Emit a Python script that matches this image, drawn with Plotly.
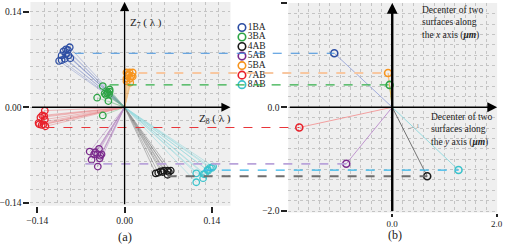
import plotly.graph_objects as go

# ---------------- data ----------------
groups = ["1BA", "3BA", "4AB", "5AB", "5BA", "7AB", "8AB"]

# panel (a): Z8 (x) and Z7 (y) coefficients, in waves
z8_1BA = [-0.088, -0.094, -0.098, -0.091, -0.101, -0.094, -0.087, -0.105, -0.101, -0.096, -0.090]
z7_1BA = [0.088, 0.085, 0.082, 0.084, 0.076, 0.078, 0.072, 0.068, 0.069, 0.071, 0.076]
z8_3BA = [-0.035, -0.024, -0.028, -0.030, -0.044, -0.026, -0.035, -0.027, -0.025, -0.032, -0.024]
z7_3BA = [0.031, 0.026, 0.020, 0.018, 0.014, 0.009, -0.012, 0.022, 0.019, 0.020, 0.023]
z8_4AB = [0.050, 0.058, 0.063, 0.069, 0.074, 0.061, 0.069, 0.054, 0.071]
z7_4AB = [-0.097, -0.094, -0.093, -0.093, -0.093, -0.095, -0.099, -0.096, -0.095]
z8_5AB = [-0.056, -0.041, -0.049, -0.037, -0.053, -0.040, -0.043, -0.047, -0.039, -0.044]
z7_5AB = [-0.065, -0.061, -0.069, -0.069, -0.077, -0.075, -0.087, -0.066, -0.071, -0.069]
z8_5BA = [0.003, 0.008, 0.013, 0.005, 0.011, 0.003, 0.009, 0.003, 0.009, 0.013, 0.006]
z7_5BA = [0.051, 0.051, 0.051, 0.046, 0.046, 0.042, 0.042, 0.038, 0.036, 0.045, 0.048]
z8_7AB = [-0.128, -0.132, -0.135, -0.128, -0.137, -0.130, -0.127, -0.133, -0.138, -0.129]
z7_7AB = [-0.005, -0.012, -0.015, -0.018, -0.025, -0.025, -0.028, -0.026, -0.023, -0.013]
z8_8AB = [0.115, 0.115, 0.126, 0.133, 0.142, 0.137, 0.127, 0.129, 0.134, 0.140]
z7_8AB = [-0.097, -0.110, -0.104, -0.092, -0.087, -0.089, -0.098, -0.098, -0.093, -0.089]

# panel (b): decenter of the two surfaces (um), same group order
decenter_x_um = [-1.11, -0.05, 0.67, -0.88, -0.08, -1.78, 1.27]
decenter_y_um = [1.04, 0.43, -1.33, -1.09, 0.66, -0.39, -1.21]
# where each dashed link leaves panel (a) (Z8 value)
link_start_z8 = [-0.080, -0.024, 0.069, -0.063, 0.022, -0.127, 0.127]

ticks_a = [-0.14, 0.0, 0.14]
ticks_b = [-2.0, 0.0, 2.0]

# ---------------- styles ----------------
marker_colors = ["#2d4ea3", "#2ca444", "#1a1a1a", "#7a2a8c", "#f7941d", "#e8202a", "#3cc3cc"]
ray_colors = ["#4a62b8", "#3aa850", "#333333", "#8a3aa0", "#f7941d", "#e83a40", "#45c6cf"]
link_colors = ["#3f8fdc", "#33b04a", "#6e6e6e", "#b9a3da", "#f8c7a0", "#e8353a", "#30b6ec"]
link_widths = [1.2, 1.2, 1.8, 1.8, 2.0, 1.2, 1.2]
b_ray_colors = ["#8d9bd6", "#5cbf5c", "#555555", "#b47fc6", "#f7a54a", "#f28b8b", "#7fd6dc"]

FONT = "Liberation Serif"
W, H = 510, 248


def px_x(p):
    return p / W


def px_y(p):
    return 1 - p / H


# panel (a) geometry (pixels)
A_L, A_R, A_T, A_B = 27, 231, 2, 209
A_X0, A_Y0 = 123, 109
kxa, kya = 0.14 / 89, 0.14 / 97
xr_a = [(A_L - A_X0) * kxa, (A_R - A_X0) * kxa]
yr_a = [(A_Y0 - A_B) * kya, (A_Y0 - A_T) * kya]

# panel (b) geometry (pixels)
B_L, B_R, B_T, B_B = 290, 503, 3, 216
B_X0, B_Y0 = 396, 109
kxb, kyb = 2 / 106.5, 2 / 105.5
xr_b = [(B_L - B_X0) * kxb, (B_R - B_X0) * kxb]
yr_b = [(B_Y0 - B_B) * kyb, (B_Y0 - B_T) * kyb]


def paper_a(xv):
    return px_x(A_L) + (xv - xr_a[0]) / (xr_a[1] - xr_a[0]) * (px_x(A_R) - px_x(A_L))


def paper_b(xv):
    return px_x(B_L) + (xv - xr_b[0]) / (xr_b[1] - xr_b[0]) * (px_x(B_R) - px_x(B_L))


z8_all = [z8_1BA, z8_3BA, z8_4AB, z8_5AB, z8_5BA, z8_7AB, z8_8AB]
z7_all = [z7_1BA, z7_3BA, z7_4AB, z7_5AB, z7_5BA, z7_7AB, z7_8AB]

fig = go.Figure()

# panel (a) rays and points
for i, g in enumerate(groups):
    xs, ys = [], []
    for xv, yv in zip(z8_all[i], z7_all[i]):
        xs += [0, xv, None]
        ys += [0, yv, None]
    fig.add_trace(go.Scatter(x=xs, y=ys, mode="lines", xaxis="x", yaxis="y",
                             line=dict(color=ray_colors[i], width=0.6), opacity=0.5,
                             hoverinfo="skip", showlegend=False))
for i, g in enumerate(groups):
    fig.add_trace(go.Scatter(x=z8_all[i], y=z7_all[i], mode="markers", xaxis="x", yaxis="y",
                             marker=dict(symbol="circle-open", size=6.5, color=marker_colors[i],
                                         line=dict(width=1.3)),
                             name=g, showlegend=False, cliponaxis=False))

# panel (b) rays and points
for i, g in enumerate(groups):
    fig.add_trace(go.Scatter(x=[0, decenter_x_um[i]], y=[0, decenter_y_um[i]], mode="lines",
                             xaxis="x2", yaxis="y2",
                             line=dict(color=b_ray_colors[i], width=0.8),
                             hoverinfo="skip", showlegend=False))
fig.add_trace(go.Scatter(x=decenter_x_um, y=decenter_y_um, mode="markers", xaxis="x2", yaxis="y2",
                         marker=dict(symbol="circle-open", size=7, color=marker_colors,
                                     line=dict(width=1.6)),
                         showlegend=False, cliponaxis=False))

# hand-made legend
fig.add_trace(go.Scatter(x=[0] * len(groups), y=list(range(len(groups))), mode="markers+text",
                         xaxis="x3", yaxis="y3", text=groups, textposition="middle right",
                         textfont=dict(family=FONT, size=9.5, color="#222222"),
                         marker=dict(symbol="circle-open", size=7.5, color=marker_colors,
                                     line=dict(width=1.6)),
                         showlegend=False, cliponaxis=False, hoverinfo="skip"))

grid = dict(showgrid=True, gridcolor="#c4c4c4", griddash="dot", gridwidth=1)
tickfont = dict(family=FONT, size=9.5, color="#222222")

fig.update_layout(
    width=W, height=H, autosize=False,
    margin=dict(l=0, r=0, t=0, b=0),
    paper_bgcolor="white", plot_bgcolor="rgba(0,0,0,0)",
    font=dict(family=FONT, size=10, color="#222222"),
    showlegend=False, hovermode=False,
    xaxis=dict(domain=[px_x(A_L), px_x(A_R)], range=xr_a, anchor="y",
               tickmode="array", tickvals=ticks_a, tickformat=".2f",
               ticks="outside", ticklen=6, tickwidth=1.5, tickcolor="#222",
               tickfont=tickfont, showgrid=False, zeroline=False, showline=False,
               minor=dict(tick0=0, dtick=13.7 * kxa, **grid)),
    yaxis=dict(domain=[px_y(A_B), px_y(A_T)], range=yr_a, anchor="x",
               tickmode="array", tickvals=ticks_a, tickformat=".2f",
               ticks="outside", ticklen=6, tickwidth=1.5, tickcolor="#222",
               tickfont=tickfont, showgrid=False, zeroline=False, showline=False,
               minor=dict(tick0=0, dtick=0.02, **grid)),
    xaxis2=dict(domain=[px_x(B_L), px_x(B_R)], range=xr_b, anchor="y2",
                tickmode="array", tickvals=ticks_b, tickformat=".1f",
                ticks="outside", ticklen=3, tickwidth=1.5, tickcolor="#222",
                tickfont=dict(family=FONT, size=9, color="#222222"),
                showgrid=False, zeroline=False, showline=False,
                minor=dict(tick0=0, dtick=0.2, **grid)),
    yaxis2=dict(domain=[px_y(B_B), px_y(B_T)], range=yr_b, anchor="x2",
                tickmode="array", tickvals=ticks_b, tickformat=".1f",
                ticks="outside", ticklen=6, tickwidth=1.5, tickcolor="#222",
                tickfont=tickfont, showgrid=False, zeroline=False, showline=False,
                minor=dict(tick0=0, dtick=0.2, **grid)),
    xaxis3=dict(domain=[px_x(238), px_x(290)], range=[-0.5, 5.0], anchor="y3", visible=False),
    yaxis3=dict(domain=[px_y(88), px_y(26)], range=[6.2, -0.2], anchor="x3", visible=False),
)

shapes = [
    dict(type="rect", xref="x domain", yref="y domain", x0=0, x1=1, y0=0, y1=1,
         fillcolor="#efefef", line=dict(width=0), layer="below"),
    dict(type="rect", xref="x2 domain", yref="y2 domain", x0=0, x1=1, y0=0, y1=1,
         fillcolor="#efefef", line=dict(width=0), layer="below"),
]
for i, g in enumerate(groups):
    shapes.append(dict(type="line", xref="paper", yref="y2",
                       x0=paper_a(link_start_z8[i]), x1=paper_b(decenter_x_um[i]),
                       y0=decenter_y_um[i], y1=decenter_y_um[i],
                       line=dict(color=link_colors[i], width=link_widths[i], dash="dash")))
fig.update_layout(shapes=shapes)

ann = []
# axis arrows
ann.append(dict(xref="x", yref="y", axref="x", ayref="y", x=xr_a[1], y=0, ax=xr_a[0], ay=0,
                text="", showarrow=True, arrowhead=2, arrowsize=1.4, arrowwidth=1.3, arrowcolor="black"))
ann.append(dict(xref="x", yref="y", axref="x", ayref="y", x=0, y=yr_a[1], ax=0, ay=yr_a[0],
                text="", showarrow=True, arrowhead=2, arrowsize=1.4, arrowwidth=1.3, arrowcolor="black"))
ann.append(dict(xref="x2", yref="y2", axref="x2", ayref="y2", x=xr_b[1], y=0, ax=xr_b[0], ay=0,
                text="", showarrow=True, arrowhead=2, arrowsize=1.4, arrowwidth=1.4, arrowcolor="black"))
ann.append(dict(xref="x2", yref="y2", axref="x2", ayref="y2", x=0, y=yr_b[1], ax=0, ay=yr_b[0],
                text="", showarrow=True, arrowhead=2, arrowsize=0.9, arrowwidth=2.4, arrowcolor="black"))
# axis names
ann.append(dict(xref="paper", yref="paper", x=px_x(126), y=px_y(23), xanchor="left", yanchor="middle",
                text="Z<sub>7</sub> ( λ )", showarrow=False, font=dict(family=FONT, size=11)))
ann.append(dict(xref="paper", yref="paper", x=px_x(197), y=px_y(121), xanchor="left", yanchor="middle",
                text="Z<sub>8</sub> ( λ )", showarrow=False, font=dict(family=FONT, size=11)))
# panel (b) texts
ann.append(dict(xref="paper", yref="paper", x=px_x(424), y=px_y(3), xanchor="left", yanchor="top",
                align="left", showarrow=False, font=dict(family=FONT, size=9.5),
                text="Decenter of two<br>surfaces along<br>the <i>x</i> axis (<b><i>μm</i></b>)"))
ann.append(dict(xref="paper", yref="paper", x=px_x(434), y=px_y(112), xanchor="left", yanchor="top",
                align="left", showarrow=False, font=dict(family=FONT, size=9.5),
                text="Decenter of two<br>surfaces along<br>the <i>y</i> axis (<b><i>μm</i></b>)"))
ann.append(dict(xref="x2", yref="y2", x=(412 - B_X0) * kxb, y=(B_Y0 - 131) * kyb, ax=10, ay=-3,
                text="1", showarrow=True, arrowhead=0, arrowwidth=0.6, arrowcolor="#888",
                font=dict(family=FONT, size=7, color="#888")))
# sub-figure labels
ann.append(dict(xref="paper", yref="paper", x=px_x(123), y=px_y(241), xanchor="center", yanchor="middle",
                text="(a)", showarrow=False, font=dict(family=FONT, size=12.5)))
ann.append(dict(xref="paper", yref="paper", x=px_x(399), y=0, xanchor="center", yanchor="bottom",
                text="(b)", showarrow=False, font=dict(family=FONT, size=12)))
fig.update_layout(annotations=ann)

fig.write_html("out.html", config={"displayModeBar": False},
               post_script="document.body.style.margin='0px';")
